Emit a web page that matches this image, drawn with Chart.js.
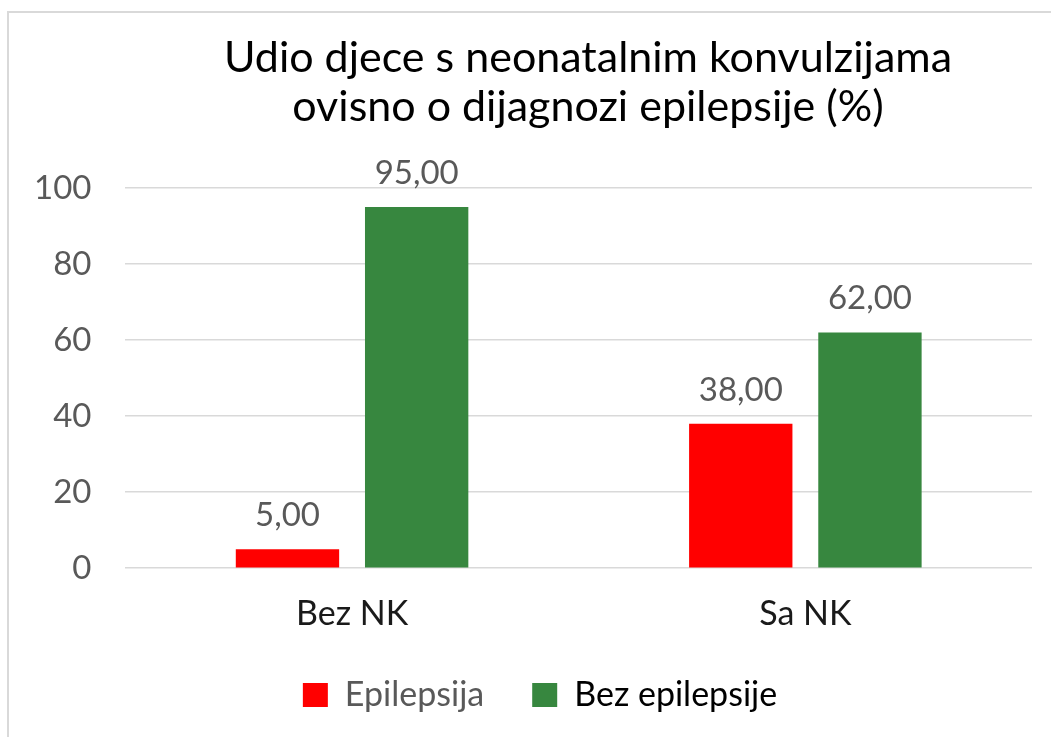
<!DOCTYPE html>
<html>
<head>
<meta charset="utf-8">
<script src="https://cdn.jsdelivr.net/npm/chart.js@4.4.0/dist/chart.umd.min.js"></script>
<style>
    html, body { margin: 0; padding: 0; background: #fff; overflow: hidden; }
    .frame {
        position: absolute; left: 7px; top: 11px; width: 1200px; height: 900px;
        border-left: 2px solid #d9d9d9; border-top: 2px solid #d9d9d9;
    }
    .wrap { position: absolute; left: 0; top: 0; width: 1051px; height: 737px; }
</style>
</head>
<body>
<div class="frame"></div>
<div class="wrap"><canvas id="chart" width="1051" height="737"></canvas></div>
<script>
// data
const categories = ['Bez NK', 'Sa NK'];
const epilepsija = [5, 38];
const bezEpilepsije = [95, 62];
const seriesNames = ['Epilepsija', 'Bez epilepsije'];
const yTicks = [0, 20, 40, 60, 80, 100];

const FONT = 'Lato, "Open Sans", sans-serif';
const GREY = '#595959';

// draws "95,00" style labels over each bar
const barLabels = {
    id: 'barLabels',
    afterDatasetsDraw(chart) {
        const ctx = chart.ctx;
        ctx.save();
        ctx.font = `33px ${FONT}`;
        ctx.fillStyle = GREY;
        ctx.textAlign = 'center';
        ctx.textBaseline = 'alphabetic';
        chart.data.datasets.forEach((ds, i) => {
            chart.getDatasetMeta(i).data.forEach((bar, j) => {
                const txt = ds.data[j].toFixed(2).replace('.', ',');
                ctx.fillText(txt, bar.x, bar.y - 23);
            });
        });
        ctx.restore();
    }
};

// title and legend sit a bit differently than Chart.js would put them
const nudge = {
    id: 'nudge',
    afterLayout(chart) {
        const t = chart.titleBlock;
        if (t) { t.left += 72; t.right += 72; }
        const l = chart.legend;
        if (l) { l.left += 24; l.right += 24; l.top -= 29; l.bottom -= 29; }
    }
};

new Chart(document.getElementById('chart').getContext('2d'), {
    type: 'bar',
    data: {
        labels: categories,
        datasets: [
            { label: seriesNames[0], data: epilepsija, backgroundColor: '#ff0000' },
            { label: seriesNames[1], data: bezEpilepsije, backgroundColor: '#37873f' }
        ]
    },
    options: {
        responsive: false,
        animation: false,
        categoryPercentage: 0.57,
        barPercentage: 0.8,
        layout: { padding: { left: 0, right: 19, top: 33, bottom: -14 } },
        scales: {
            x: {
                grid: { display: false, drawTicks: false },
                border: { display: false },
                ticks: { color: '#1a1a1a', font: { family: FONT, size: 34 }, padding: 25 }
            },
            y: {
                min: 0, max: 100,
                afterBuildTicks: (axis) => { axis.ticks = yTicks.map(v => ({ value: v })); },
                grid: { color: '#d9d9d9', lineWidth: 1.5, drawTicks: false },
                border: { display: false },
                ticks: { color: GREY, font: { family: FONT, size: 33 }, padding: 34 }
            }
        },
        plugins: {
            title: {
                display: true,
                text: ['Udio djece s neonatalnim konvulzijama', 'ovisno o dijagnozi epilepsije (%)'],
                color: '#000',
                font: { family: FONT, size: 43, weight: 'normal', lineHeight: 1.15 },
                padding: { top: 0, bottom: 56 }
            },
            legend: {
                position: 'bottom',
                labels: {
                    font: { family: FONT, size: 34 },
                    boxWidth: 25, boxHeight: 24, padding: 48,
                    generateLabels: (chart) => chart.data.datasets.map((ds, i) => ({
                        text: ds.label,
                        fillStyle: ds.backgroundColor,
                        strokeStyle: ds.backgroundColor,
                        lineWidth: 0,
                        fontColor: i === 0 ? GREY : '#000',
                        datasetIndex: i
                    }))
                }
            },
            tooltip: { enabled: false }
        }
    },
    plugins: [barLabels, nudge]
});
</script>
</body>
</html>
